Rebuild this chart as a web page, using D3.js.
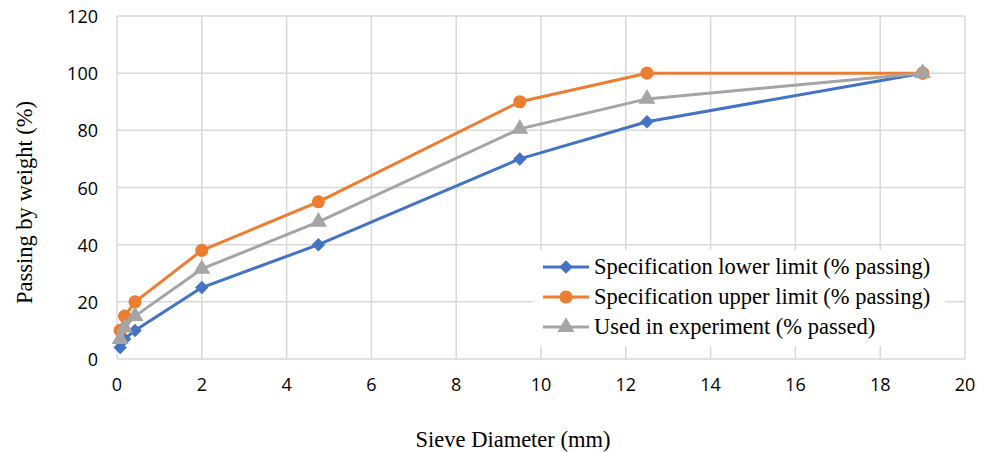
<!doctype html>
<html lang="en">
<head>
<meta charset="utf-8">
<title>Sieve analysis</title>
<script src="https://cdn.jsdelivr.net/npm/d3@7"></script>
<style>
  body { margin: 0; background: #fff; }
  svg { display: block; }
</style>
</head>
<body>
<script>
var sieveSizes = [0.075, 0.18, 0.425, 2, 4.75, 9.5, 12.5, 19];
var lowerLimit = [4, 7, 10, 25, 40, 70, 83, 100];
var upperLimit = [10, 15, 20, 38, 55, 90, 100, 100];
var usedMix = [7, 11, 15, 31.5, 48, 80.5, 91, 100];
var xTicks = [0, 2, 4, 6, 8, 10, 12, 14, 16, 18, 20];
var yTicks = [0, 20, 40, 60, 80, 100, 120];
var seriesNames = ["Specification lower limit (% passing)", "Specification upper limit (% passing)", "Used in experiment (% passed)"];
var seriesColors = ["#4472C4", "#ED7D31", "#A5A5A5"];

var W = 988, H = 452;
var margin = {top: 16, right: 23, bottom: 93, left: 117};

var svg = d3.select("body").append("svg")
    .attr("width", W).attr("height", H);

var x = d3.scaleLinear().domain([0, 20]).range([margin.left, W - margin.right]);
var y = d3.scaleLinear().domain([0, 120]).range([H - margin.bottom, margin.top]);

// marker shapes: rhombus, circle, triangle
var markers = [
    d3.symbol().type(d3.symbolSquare).size(90),
    d3.symbol().type(d3.symbolCircle).size(135),
    d3.symbol().type(d3.symbolTriangle).size(125)
];
var markerRot = [45, 0, 0];

// gridlines
svg.append("g").selectAll("line").data(yTicks).enter().append("line")
    .attr("x1", x(0)).attr("x2", x(20))
    .attr("y1", d => y(d)).attr("y2", d => y(d))
    .attr("stroke", "#d9d9d9").attr("stroke-width", 1.5);
svg.append("g").selectAll("line").data(xTicks).enter().append("line")
    .attr("x1", d => x(d)).attr("x2", d => x(d))
    .attr("y1", y(0)).attr("y2", y(120))
    .attr("stroke", "#d9d9d9").attr("stroke-width", 1.5);

// tick labels
svg.append("g").selectAll("text").data(yTicks).enter().append("text")
    .attr("x", x(0) - 19).attr("y", d => y(d) + 7)
    .attr("text-anchor", "end")
    .attr("font-family", "'Open Sans', sans-serif").attr("font-size", "18px")
    .attr("fill", "#000")
    .text(d => d);
svg.append("g").selectAll("text").data(xTicks).enter().append("text")
    .attr("x", d => x(d)).attr("y", y(0) + 32)
    .attr("text-anchor", "middle")
    .attr("font-family", "'Open Sans', sans-serif").attr("font-size", "18px")
    .attr("fill", "#000")
    .text(d => d);

// axis titles
svg.append("text")
    .attr("x", 513).attr("y", 447)
    .attr("text-anchor", "middle")
    .attr("font-family", "'Liberation Serif', serif").attr("font-size", "22.5px")
    .text("Sieve Diameter (mm)");
svg.append("text")
    .attr("transform", "translate(32," + (y(60) + 15) + ") rotate(-90)")
    .attr("text-anchor", "middle")
    .attr("font-family", "'Liberation Serif', serif").attr("font-size", "22.5px")
    .text("Passing by weight (%)");

var allSeries = [lowerLimit, upperLimit, usedMix];
var line = d3.line().x(d => x(d[0])).y(d => y(d[1]));

allSeries.forEach(function(vals, i) {
    var pts = sieveSizes.map((s, j) => [s, vals[j]]);
    svg.append("path")
        .datum(pts)
        .attr("d", line)
        .attr("fill", "none")
        .attr("stroke", seriesColors[i])
        .attr("stroke-width", 3)
        .attr("stroke-linejoin", "round");
    svg.append("g").selectAll("path").data(pts).enter().append("path")
        .attr("transform", d => "translate(" + x(d[0]) + "," + y(d[1]) + ") rotate(" + markerRot[i] + ")")
        .attr("d", markers[i])
        .attr("fill", seriesColors[i]);
});

// legend
var lg = svg.append("g").attr("transform", "translate(533,250)");
lg.append("rect").attr("width", 412).attr("height", 96).attr("fill", "#fff");
seriesNames.forEach(function(name, i) {
    var ly = 17 + i * 30;
    lg.append("line")
        .attr("x1", 10).attr("x2", 56).attr("y1", ly).attr("y2", ly)
        .attr("stroke", seriesColors[i]).attr("stroke-width", 3);
    lg.append("path")
        .attr("transform", "translate(33," + ly + ") rotate(" + markerRot[i] + ")")
        .attr("d", markers[i])
        .attr("fill", seriesColors[i]);
    lg.append("text")
        .attr("x", 61).attr("y", ly + 7)
        .attr("font-family", "'Liberation Serif', serif").attr("font-size", "22.5px")
        .text(name);
});
</script>
</body>
</html>
